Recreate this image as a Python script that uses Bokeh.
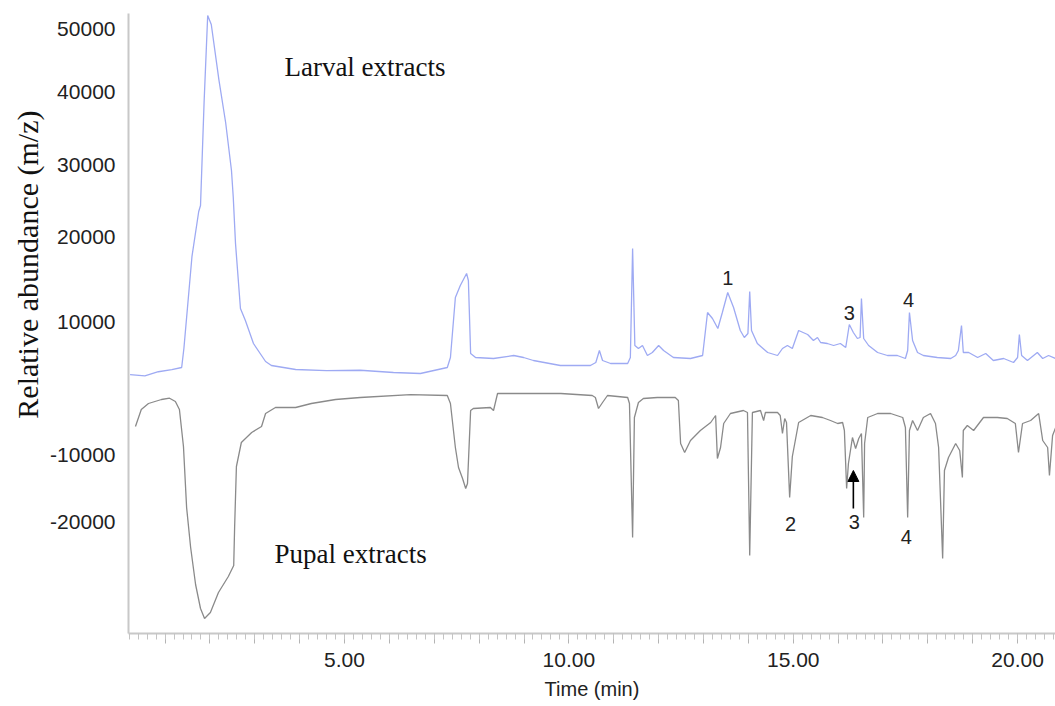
from bokeh.plotting import figure
from bokeh.models import FixedTicker, Label, Arrow, NormalHead, Range1d, Title
from bokeh.embed import file_html
from bokeh.resources import INLINE

# ---- data (time in min, relative abundance) ----
larval_time = [0.22, 0.55, 0.85, 1.15, 1.37, 1.42, 1.60, 1.75, 1.79, 1.87, 1.95, 2.03, 2.20, 2.35,
               2.48, 2.52, 2.57, 2.68, 2.79, 2.97, 3.24, 3.37, 3.91, 4.60, 5.35, 6.09, 6.69, 7.29,
               7.36, 7.47, 7.58, 7.72, 7.76, 7.81, 7.92, 8.32, 8.77, 8.99, 9.21, 9.81, 10.48, 10.60,
               10.68, 10.75, 10.93, 11.31, 11.37, 11.42, 11.47, 11.55, 11.64, 11.75, 11.86, 12.00,
               12.11, 12.33, 12.71, 12.98, 13.09, 13.20, 13.32, 13.42, 13.54, 13.67, 13.82, 13.91,
               13.99, 14.03, 14.07, 14.20, 14.43, 14.65, 14.76, 14.87, 14.98, 15.12, 15.32, 15.45,
               15.54, 15.61, 15.76, 15.90, 16.05, 16.17, 16.25, 16.34, 16.43, 16.49, 16.52, 16.57,
               16.68, 16.88, 17.10, 17.32, 17.50, 17.55, 17.59, 17.66, 17.77, 17.90, 18.21, 18.51,
               18.62, 18.68, 18.75, 18.79, 18.91, 19.11, 19.29, 19.46, 19.69, 19.91, 20.00, 20.04,
               20.09, 20.22, 20.44, 20.56, 20.69, 20.85]
larval_abundance = [2900, 2750, 3300, 3600, 3876, 6500, 19000, 25092, 25908, 40000, 51748, 50524,
                    43000, 37196, 30668, 27000, 20740, 11900, 10268, 7140, 4692, 4148, 3604, 3450,
                    3500, 3196, 3060, 3876, 5236, 13396, 15028, 16660, 15708, 5780, 5236, 5100, 5508,
                    5236, 4828, 4148, 4148, 4556, 6188, 4828, 4420, 4420, 5236, 20060, 6868, 6460,
                    6868, 5508, 5916, 6868, 6188, 5236, 5100, 5508, 11356, 10540, 9180, 11356, 14076,
                    12036, 8908, 7956, 8500, 14212, 8908, 7140, 5916, 5508, 6460, 6868, 6460, 8908,
                    8364, 7548, 7956, 7276, 7140, 6868, 7140, 6596, 9724, 8636, 7820, 7956, 13260,
                    7820, 6868, 5916, 5508, 5508, 5100, 6188, 11356, 7548, 5916, 5508, 5236, 5100,
                    5508, 6188, 9588, 5916, 5916, 5236, 5780, 4828, 5100, 4556, 5236, 8364, 5508,
                    4828, 5916, 5100, 5508, 5100]

pupal_time = [0.34, 0.47, 0.63, 0.92, 1.10, 1.23, 1.32, 1.41, 1.48, 1.57, 1.68, 1.79, 1.88, 2.01,
              2.19, 2.41, 2.53, 2.55, 2.59, 2.70, 2.93, 3.15, 3.24, 3.46, 3.91, 4.26, 4.80, 5.35,
              6.47, 7.29, 7.36, 7.47, 7.54, 7.63, 7.70, 7.74, 7.81, 7.87, 8.25, 8.32, 8.41, 9.08,
              9.82, 10.52, 10.59, 10.66, 10.75, 10.86, 11.31, 11.35, 11.42, 11.46, 11.55, 11.66,
              11.97, 12.37, 12.44, 12.49, 12.58, 12.71, 12.93, 13.16, 13.27, 13.31, 13.38, 13.45,
              13.60, 13.89, 13.98, 14.03, 14.09, 14.27, 14.34, 14.38, 14.65, 14.71, 14.76, 14.81,
              14.85, 14.92, 14.98, 15.12, 15.39, 15.65, 15.83, 15.99, 16.10, 16.14, 16.19, 16.23,
              16.32, 16.39, 16.46, 16.52, 16.57, 16.59, 16.66, 16.88, 17.17, 17.44, 17.50, 17.55,
              17.59, 17.66, 17.77, 17.84, 17.90, 18.06, 18.17, 18.24, 18.33, 18.37, 18.46, 18.62,
              18.71, 18.77, 18.79, 18.88, 19.02, 19.24, 19.55, 19.77, 19.95, 20.02, 20.11, 20.29,
              20.47, 20.56, 20.67, 20.71, 20.78, 20.85]
pupal_abundance = [-4148, -1836, -1020, -476, -300, -748, -1836, -6868, -15164, -20604, -25636,
                   -28900, -30260, -29444, -26724, -24548, -23052, -17884, -9588, -6324, -4964,
                   -4148, -2380, -1564, -1564, -1020, -476, -204, 200, 68, -1020, -7004, -9724,
                   -11220, -12580, -11900, -1972, -1700, -1564, -1972, 340, 340, 340, 68, -204,
                   -1700, -884, 68, -204, -1020, -19244, -2924, -884, -340, -204, -204, -612,
                   -6460, -7684, -6052, -4692, -3604, -2652, -8500, -7004, -3740, -2380, -1972,
                   -2244, -21692, -2244, -1972, -3332, -2244, -2244, -2652, -5100, -3060, -3604,
                   -13804, -8228, -3604, -2652, -2924, -3332, -3740, -3604, -4692, -12580, -9180,
                   -5644, -7140, -5780, -5100, -16524, -6460, -2924, -2380, -2380, -2924, -4284,
                   -16524, -4692, -3332, -4692, -3740, -2924, -2380, -3740, -7004, -22100, -10132,
                   -8364, -6460, -7412, -11084, -4692, -4012, -4692, -2924, -2924, -3060, -3740,
                   -7684, -3740, -3332, -2380, -6052, -7004, -10812, -5372, -4284]

# axis ticks as they appear in the figure
y_tick_values = [49980, 41280, 31350, 21560, 10000, -8090, -17200]
y_tick_labels = ["50000", "40000", "30000", "20000", "10000", "-10000", "-20000"]
x_major_ticks = list(range(1, 21))
x_tick_labels = {5: "5.00", 10: "10.00", 15: "15.00", 20: "20.00"}

SANS = "Liberation Sans"
SERIF = "Liberation Serif"
TXT = "#222222"

p = figure(frame_width=927, frame_height=620,
           x_range=Range1d(0.185, 20.845), y_range=Range1d(-32300, 52020),
           output_backend="svg", toolbar_location=None,
           min_border_left=128, min_border_right=0, min_border_top=13, min_border_bottom=73)
p.outline_line_color = None
p.xgrid.visible = False
p.ygrid.visible = False
p.background_fill_color = "white"
p.border_fill_color = "white"

p.line(larval_time, larval_abundance, color="#9eaaf3", line_width=1.3)
p.line(pupal_time, pupal_abundance, color="#8a8a8a", line_width=1.3)

# x axis
xa = p.xaxis[0]
xa.ticker = FixedTicker(ticks=x_major_ticks, minor_ticks=[i / 5 for i in range(1, 105)])
xa.major_label_overrides = {t: x_tick_labels.get(t, "") for t in x_major_ticks}
xa.axis_line_color = "#c8c8c8"
xa.axis_line_width = 2
xa.major_tick_line_color = "#b4b4b4"
xa.minor_tick_line_color = "#c4c4c4"
xa.major_tick_out = 10
xa.major_tick_in = 0
xa.minor_tick_out = 6
xa.minor_tick_in = 0
xa.major_label_standoff = 9
xa.major_label_text_font = SANS
xa.major_label_text_font_size = "21px"
xa.major_label_text_color = TXT
xa.axis_label = "Time (min)"
xa.axis_label_text_font = SANS
xa.axis_label_text_font_size = "20px"
xa.axis_label_text_font_style = "normal"
xa.axis_label_text_color = TXT
xa.axis_label_standoff = 8

# y axis
ya = p.yaxis[0]
ya.ticker = FixedTicker(ticks=y_tick_values)
ya.major_label_overrides = dict(zip(y_tick_values, y_tick_labels))
ya.axis_line_color = "#c8c8c8"
ya.axis_line_width = 2
ya.major_tick_line_color = None
ya.minor_tick_line_color = None
ya.major_label_standoff = 7
ya.major_label_text_font = SANS
ya.major_label_text_font_size = "21px"
ya.major_label_text_color = TXT

# y-axis title (left of the axis, its top end placed as in the figure)
p.add_layout(Title(text="Relative abundance (m/z)", align="right", offset=97,
                   text_font=SERIF, text_font_size="30px", text_font_style="normal",
                   text_color="#111111", standoff=8), "left")

# annotations
p.add_layout(Label(x=3.66, y=44800, text="Larval extracts", text_align="left",
                   text_baseline="middle", text_font=SERIF, text_font_size="27px",
                   text_color="#111111"))
p.add_layout(Label(x=3.44, y=-21420, text="Pupal extracts", text_align="left",
                   text_baseline="middle", text_font=SERIF, text_font_size="27px",
                   text_color="#111111"))

peak_marks = [(13.54, 16100, "1"), (14.94, -17340, "2"), (16.25, 11350, "3"),
              (17.57, 12990, "4"), (16.36, -17200, "3"), (17.52, -19240, "4")]
for px_, py_, t in peak_marks:
    p.add_layout(Label(x=px_, y=py_, text=t, text_align="center", text_baseline="middle",
                       text_font=SANS, text_font_size="20px", text_color=TXT))

p.add_layout(Arrow(end=NormalHead(size=11, fill_color="black", line_color="black"),
                   x_start=16.34, y_start=-15300, x_end=16.34, y_end=-10130,
                   line_color="black", line_width=1.6))

open("out.html", "w").write(file_html(p, INLINE))
